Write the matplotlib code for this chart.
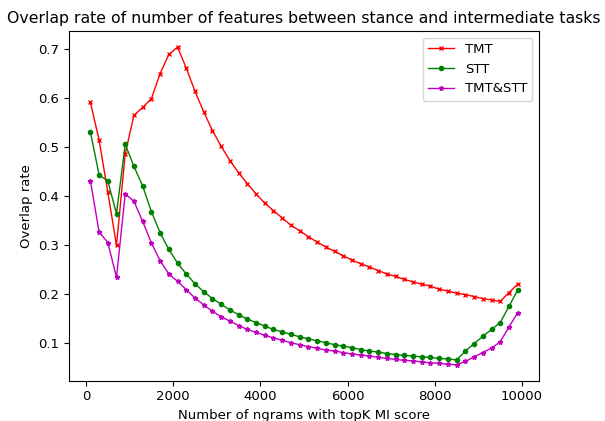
import numpy as np
import matplotlib
matplotlib.use("Agg")
import matplotlib.pyplot as plt

topk = np.arange(100, 10000, 200)

tmt = [0.591, 0.514, 0.408, 0.299, 0.486, 0.564, 0.580, 0.598, 0.649, 0.688,
       0.703, 0.660, 0.613, 0.571, 0.533, 0.501, 0.472, 0.447, 0.425, 0.404,
       0.385, 0.370, 0.355, 0.340, 0.329, 0.317, 0.306, 0.296, 0.287, 0.278,
       0.269, 0.262, 0.255, 0.248, 0.241, 0.236, 0.230, 0.225, 0.220, 0.216,
       0.210, 0.206, 0.202, 0.199, 0.195, 0.191, 0.188, 0.185, 0.203, 0.220]

stt = [0.531, 0.443, 0.430, 0.364, 0.505, 0.460, 0.420, 0.368, 0.325, 0.291,
       0.263, 0.241, 0.221, 0.205, 0.191, 0.179, 0.168, 0.158, 0.149, 0.142,
       0.135, 0.128, 0.123, 0.118, 0.113, 0.109, 0.105, 0.101, 0.097, 0.094,
       0.091, 0.087, 0.084, 0.082, 0.079, 0.077, 0.075, 0.074, 0.072, 0.071,
       0.069, 0.068, 0.066, 0.084, 0.099, 0.114, 0.128, 0.142, 0.175, 0.208]

both = [0.431, 0.327, 0.305, 0.234, 0.404, 0.389, 0.348, 0.304, 0.268, 0.241,
        0.226, 0.209, 0.192, 0.178, 0.165, 0.154, 0.145, 0.136, 0.128, 0.122,
        0.116, 0.111, 0.106, 0.101, 0.097, 0.093, 0.090, 0.086, 0.084, 0.081,
        0.078, 0.076, 0.074, 0.071, 0.069, 0.067, 0.065, 0.064, 0.062, 0.060,
        0.059, 0.057, 0.056, 0.063, 0.072, 0.081, 0.090, 0.103, 0.133, 0.162]

plt.rcParams["font.size"] = 9.5

fig = plt.figure(figsize=(6.05, 4.21), dpi=100)
ax = fig.add_axes([0.114, 0.0957, 0.777, 0.8303])
ax.plot(topk, tmt, color="red", marker="x", markersize=3.5, linewidth=1, label="TMT")
ax.plot(topk, stt, color="green", marker="o", markersize=3, linewidth=1, label="STT")
ax.plot(topk, both, color="m", marker="*", markersize=3.5, linewidth=1, label="TMT&STT")
ax.set_xlabel("Number of ngrams with topK MI score")
ax.set_ylabel("Overlap rate")
ax.set_title("Overlap rate of number of features between stance and intermediate tasks", fontsize=11.3)
ax.legend(loc="upper right")
fig.savefig("out.png", dpi=100)
